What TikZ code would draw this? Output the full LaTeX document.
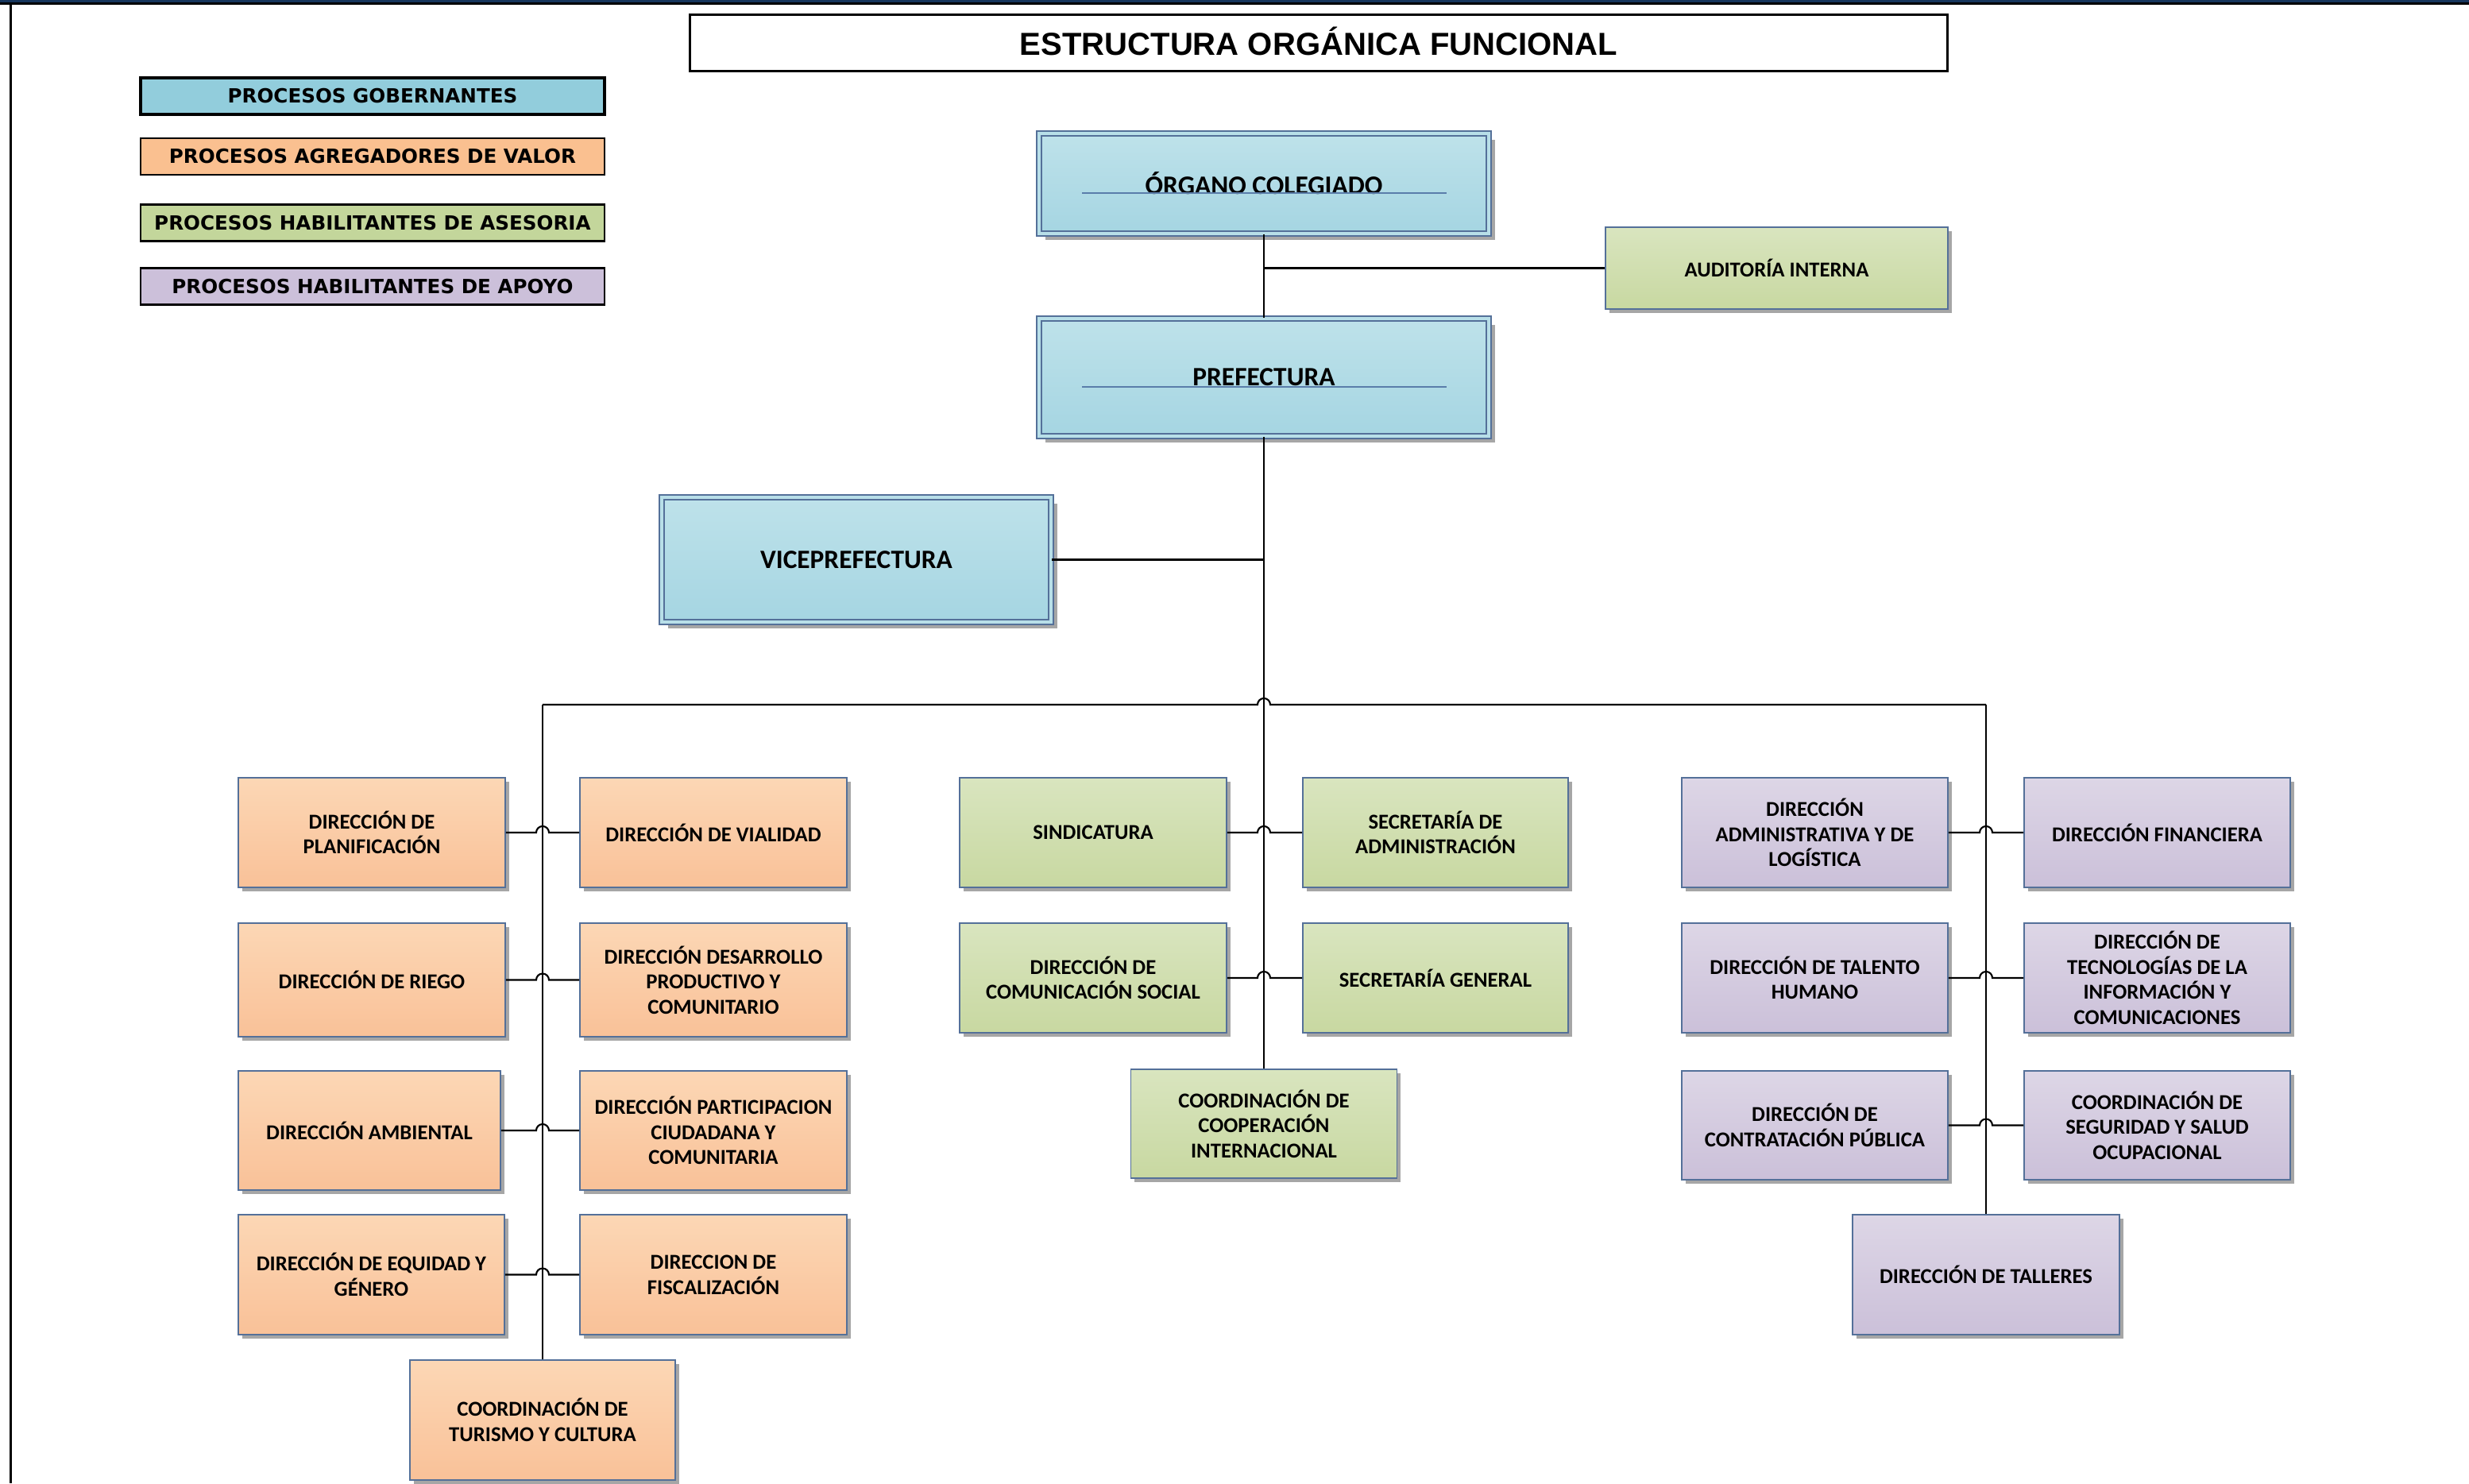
\documentclass[tikz,border=0pt]{standalone}
\usepackage{fontspec}
\setmainfont{Carlito}
\newfontfamily\legendfont{DejaVu Sans}
\newfontfamily\titlefont{Liberation Sans}
\usepackage{tikz}
\usetikzlibrary{calc,shadows}
\definecolor{navy}{RGB}{23,54,93}
\definecolor{bordercol}{RGB}{84,112,153}
\definecolor{ulcol}{RGB}{90,125,170}
\definecolor{shadowgray}{RGB}{166,166,166}
\definecolor{blueT}{RGB}{190,226,234}
\definecolor{blueB}{RGB}{165,213,226}
\definecolor{blueM}{RGB}{184,223,232}
\definecolor{orT}{RGB}{252,215,181}
\definecolor{orB}{RGB}{249,193,152}
\definecolor{grT}{RGB}{217,229,191}
\definecolor{grB}{RGB}{200,216,161}
\definecolor{puT}{RGB}{221,214,230}
\definecolor{puB}{RGB}{203,192,217}
\definecolor{legblue}{RGB}{146,205,220}
\definecolor{legor}{RGB}{250,192,144}
\definecolor{leggr}{RGB}{195,214,155}
\definecolor{legpu}{RGB}{204,192,218}

\begin{document}
\begin{tikzpicture}[
  boxbase/.style={rectangle, draw=bordercol, line width=0.45pt, align=center, inner sep=1pt},
  unit/.style={boxbase, font=\fontsize{7.6}{9}\selectfont\bfseries,
    drop shadow={shadow xshift=0.045cm, shadow yshift=-0.05cm, fill=shadowgray, opacity=1}},
  gob/.style={boxbase, top color=blueT, bottom color=blueB, double=blueM, double distance=0.045cm,
    font=\fontsize{9.5}{11}\selectfont\bfseries,
    drop shadow={shadow xshift=0.08cm, shadow yshift=-0.08cm, fill=shadowgray, opacity=1}},
  agr/.style={unit, top color=orT, bottom color=orB},
  ase/.style={unit, top color=grT, bottom color=grB},
  apo/.style={unit, top color=puT, bottom color=puB},
  legendbox/.style={rectangle, draw=black, line width=0.6pt, minimum width=5.84cm, minimum height=0.46cm,
    inner sep=0pt, font=\legendfont\fontsize{7}{8}\selectfont\bfseries},
  titlebox/.style={rectangle, draw=black, line width=0.7pt, minimum width=15.83cm, minimum height=0.71cm,
    text height=8.6pt, text depth=0pt, font=\titlefont\fontsize{11.4}{13}\selectfont\bfseries},
  link/.style={draw=black, line width=0.6pt},
]
\useasboundingbox (0,0) rectangle (31.08,-18.67);
% marco
\fill[navy] (0,0) rectangle (31.08,-0.03);
\fill[black] (0,-0.03) rectangle (31.08,-0.057);
\fill[black] (0.12,-0.057) rectangle (0.15,-18.67);

% titulo y leyenda
\node[titlebox] (titulo) at (16.60,-0.54) {ESTRUCTURA ORGÁNICA FUNCIONAL};
\node[legendbox, fill=legblue, line width=1.1pt] (lgob) at (4.69,-1.21) {PROCESOS GOBERNANTES};
\node[legendbox, fill=legor] (lagr) at (4.69,-1.97) {PROCESOS AGREGADORES DE VALOR};
\node[legendbox, fill=leggr] (lase) at (4.69,-2.805) {PROCESOS HABILITANTES DE ASESORIA};
\node[legendbox, fill=legpu] (lapo) at (4.69,-3.605) {PROCESOS HABILITANTES DE APOYO};

% procesos gobernantes
\node[gob, minimum width=5.66cm, minimum height=1.26cm] (org) at (15.91,-2.31) {ÓRGANO COLEGIADO};
\node[gob, minimum width=5.66cm, minimum height=1.48cm] (pref) at (15.91,-4.75) {PREFECTURA};
\node[gob, minimum width=4.90cm, minimum height=1.57cm] (vice) at (10.78,-7.045) {VICEPREFECTURA};
\draw[ulcol, line width=0.5pt] ($(org.center)+(-2.29,-0.12)$) -- ++(4.59,0);
\draw[ulcol, line width=0.5pt] ($(pref.center)+(-2.29,-0.12)$) -- ++(4.59,0);
\node[ase, minimum width=4.31cm, minimum height=1.03cm] (aud) at (22.365,-3.375) {AUDITORÍA INTERNA};

% agregadores de valor
\node[agr, minimum width=3.36cm, minimum height=1.38cm] (plan) at (4.68,-10.48) {DIRECCIÓN DE\\PLANIFICACIÓN};
\node[agr, minimum width=3.36cm, minimum height=1.43cm] (riego) at (4.68,-12.335) {DIRECCIÓN DE RIEGO};
\node[agr, minimum width=3.30cm, minimum height=1.50cm] (amb) at (4.65,-14.23) {DIRECCIÓN AMBIENTAL};
\node[agr, minimum width=3.35cm, minimum height=1.51cm] (equi) at (4.675,-16.045) {DIRECCIÓN DE EQUIDAD Y\\GÉNERO};
\node[agr, minimum width=3.36cm, minimum height=1.38cm] (vial) at (8.98,-10.48) {DIRECCIÓN DE VIALIDAD};
\node[agr, minimum width=3.36cm, minimum height=1.43cm] (desa) at (8.98,-12.335) {DIRECCIÓN DESARROLLO\\PRODUCTIVO Y\\COMUNITARIO};
\node[agr, minimum width=3.36cm, minimum height=1.50cm] (part) at (8.98,-14.23) {DIRECCIÓN PARTICIPACION\\CIUDADANA Y\\COMUNITARIA};
\node[agr, minimum width=3.36cm, minimum height=1.51cm] (fisc) at (8.98,-16.045) {DIRECCION DE\\FISCALIZACIÓN};
\node[agr, minimum width=3.34cm, minimum height=1.51cm] (tur) at (6.83,-17.875) {COORDINACIÓN DE\\TURISMO Y CULTURA};

% habilitantes de asesoria
\node[ase, minimum width=3.36cm, minimum height=1.38cm] (sind) at (13.76,-10.48) {SINDICATURA};
\node[ase, minimum width=3.34cm, minimum height=1.38cm] (secadm) at (18.07,-10.48) {SECRETARÍA DE\\ADMINISTRACIÓN};
\node[ase, minimum width=3.36cm, minimum height=1.38cm] (comsoc) at (13.76,-12.31) {DIRECCIÓN DE\\COMUNICACIÓN SOCIAL};
\node[ase, minimum width=3.34cm, minimum height=1.38cm] (secgen) at (18.07,-12.31) {SECRETARÍA GENERAL};
\node[ase, minimum width=3.35cm, minimum height=1.37cm] (coop) at (15.91,-14.145) {COORDINACIÓN DE\\COOPERACIÓN\\INTERNACIONAL};

% habilitantes de apoyo
\node[apo, minimum width=3.35cm, minimum height=1.38cm] (adm) at (22.845,-10.48) {DIRECCIÓN\\ADMINISTRATIVA Y DE\\LOGÍSTICA};
\node[apo, minimum width=3.35cm, minimum height=1.38cm] (fin) at (27.155,-10.48) {DIRECCIÓN FINANCIERA};
\node[apo, minimum width=3.35cm, minimum height=1.38cm] (tal) at (22.845,-12.31) {DIRECCIÓN DE TALENTO\\HUMANO};
\node[apo, minimum width=3.35cm, minimum height=1.38cm] (tic) at (27.155,-12.31) {DIRECCIÓN DE\\TECNOLOGÍAS DE LA\\INFORMACIÓN Y\\COMUNICACIONES};
\node[apo, minimum width=3.35cm, minimum height=1.37cm] (contr) at (22.845,-14.165) {DIRECCIÓN DE\\CONTRATACIÓN PÚBLICA};
\node[apo, minimum width=3.35cm, minimum height=1.37cm] (seg) at (27.155,-14.165) {COORDINACIÓN DE\\SEGURIDAD Y SALUD\\OCUPACIONAL};
\node[apo, minimum width=3.36cm, minimum height=1.51cm] (tall) at (25.00,-16.045) {DIRECCIÓN DE TALLERES};

% conectores
\coordinate (busL) at (6.83,-8.87);
\coordinate (busM) at (15.91,-8.87);
\coordinate (busR) at (25.00,-8.87);
\draw[link] (org.south) -- (pref.north);
\draw[link] (aud.west) -- (aud.west -| org.south);
\draw[link] (pref.south) -- (coop.north);
\draw[link] (vice.east) -- (vice.east -| pref.south);
\draw[link] (busL) -- ($(busM)+(-0.08,0)$) arc[start angle=180, end angle=0, radius=0.08] -- (busR);
\draw[link] (busL) -- (tur.north);
\draw[link] (busR) -- (tall.north);
\foreach \a/\b/\v in {plan/vial/busL, riego/desa/busL, amb/part/busL, equi/fisc/busL,
  sind/secadm/busM, comsoc/secgen/busM, adm/fin/busR, tal/tic/busR, contr/seg/busR}
  \draw[link] (\a.east) -- ($(\a.east -| \v)+(-0.08,0)$) arc[start angle=180, end angle=0, radius=0.08] -- (\b.west);
\end{tikzpicture}
\end{document}
